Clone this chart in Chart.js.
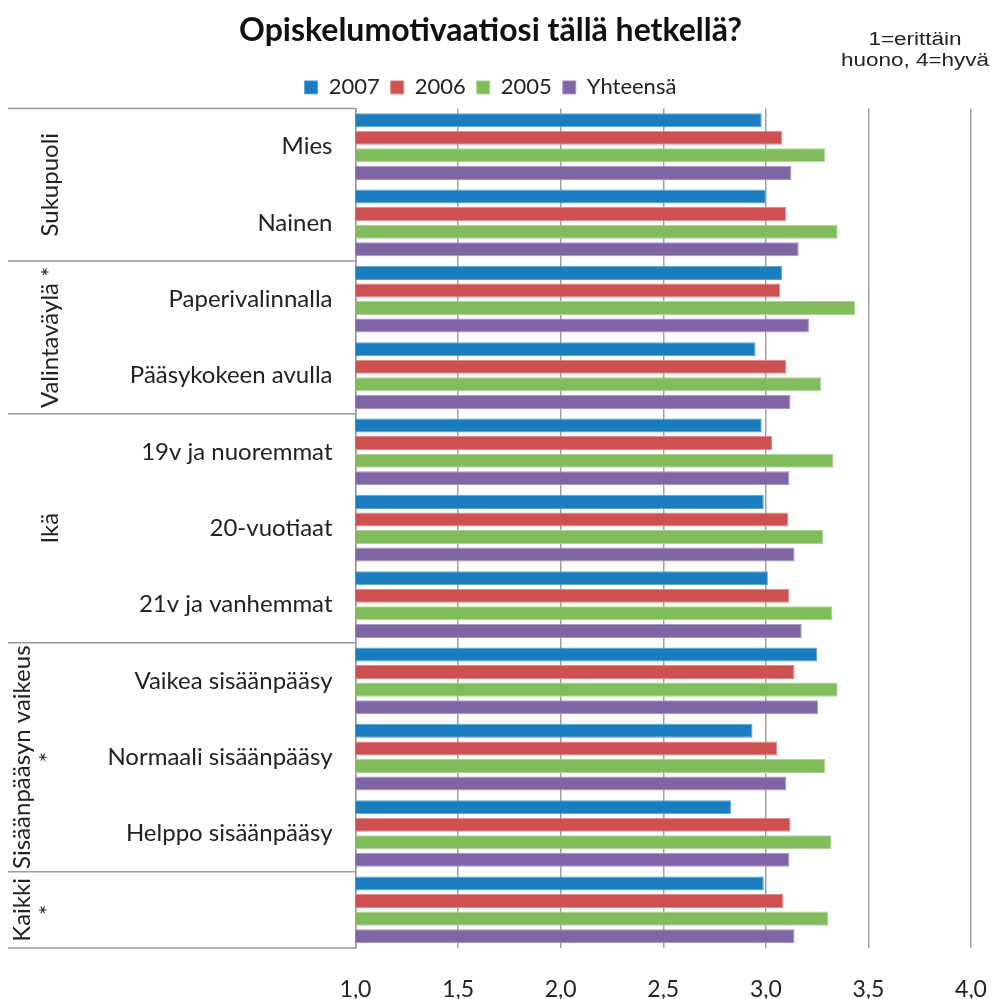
<!DOCTYPE html>
<html>
<head>
<meta charset="utf-8">
<script src="https://cdn.jsdelivr.net/npm/chart.js@4/dist/chart.umd.min.js"></script>
<style>
    html, body { margin: 0; padding: 0; background: #fff; }
    #wrap { width: 992px; height: 999px; position: relative; }
</style>
</head>
<body>
<div id="wrap"><canvas id="chart"></canvas></div>
<script>
"use strict";

// Data:
var categories = ['Mies', 'Nainen', 'Paperivalinnalla', 'Pääsykokeen avulla', '19v ja nuoremmat',
    '20-vuotiaat', '21v ja vanhemmat', 'Vaikea sisäänpääsy', 'Normaali sisäänpääsy', 'Helppo sisäänpääsy', ''];
var seriesNames = ['2007', '2006', '2005', 'Yhteensä'];
var values2007 = [2.98, 3.00, 3.08, 2.95, 2.98, 2.99, 3.01, 3.25, 2.935, 2.83, 2.99];
var values2006 = [3.08, 3.10, 3.07, 3.10, 3.03, 3.11, 3.115, 3.14, 3.055, 3.12, 3.085];
var values2005 = [3.29, 3.35, 3.435, 3.27, 3.33, 3.28, 3.325, 3.35, 3.29, 3.32, 3.305];
var valuesTotal = [3.125, 3.16, 3.21, 3.12, 3.115, 3.14, 3.175, 3.255, 3.10, 3.115, 3.14];

// Group column: label lines and which categories each group spans
var groupLabels = [['Sukupuoli'], ['Valintaväylä *'], ['Ikä'], ['Sisäänpääsyn vaikeus', '*'], ['Kaikki', '*']];
var groupStarts = [0, 2, 4, 7, 10];
var groupEnds = [1, 3, 6, 9, 10];

var xTicksMin = 1;
var xTicksMax = 4;
var xTicksStep = 0.5;

var colors = ['#1a7dc0', '#cf5050', '#80bb5c', '#8065a5'];
var borders = ['#5aa3d6', '#e08a8a', '#acd490', '#a892c4'];

var FONT = 'Lato, "Open Sans", sans-serif';

// Draws the grouped label table on the left and the scale note
var groupColumn = {
    id: 'groupColumn',
    afterDraw: function (chart) {
        var ctx = chart.ctx;
        var y = chart.scales.y;
        var area = chart.chartArea;
        var step = y.getPixelForValue(1) - y.getPixelForValue(0);

        ctx.save();
        ctx.strokeStyle = '#9a9a9a';
        ctx.lineWidth = 1.5;

        groupStarts.forEach(function (start, i) {
            var top = y.getPixelForValue(start) - step / 2;
            var bottom = y.getPixelForValue(groupEnds[i]) + step / 2;

            ctx.beginPath();
            ctx.moveTo(8, top);
            ctx.lineTo(area.left, top);
            ctx.stroke();
            if (i === groupStarts.length - 1) {
                ctx.beginPath();
                ctx.moveTo(8, bottom);
                ctx.lineTo(area.left, bottom);
                ctx.stroke();
            }

            // rotated label
            var lines = groupLabels[i];
            var mid = (top + bottom) / 2;
            ctx.fillStyle = '#222';
            ctx.font = '24px ' + FONT;
            ctx.textAlign = 'center';
            ctx.textBaseline = 'middle';
            lines.forEach(function (line, j) {
                var cx = lines.length === 1 ? 50 : 22 + j * 26;
                ctx.save();
                ctx.translate(cx, mid);
                ctx.rotate(-Math.PI / 2);
                ctx.fillText(line, 0, 0);
                ctx.restore();
            });
        });

        // scale note, top right (stretched a bit like in the original)
        ctx.fillStyle = '#222';
        ctx.font = '18px "Liberation Sans", Arial, sans-serif';
        ctx.textAlign = 'center';
        ctx.textBaseline = 'middle';
        ctx.save();
        ctx.translate(915, 0);
        ctx.scale(1.25, 1);
        ctx.fillText('1=erittäin', 0, 40);
        ctx.fillText('huono, 4=hyvä', 0, 61);
        ctx.restore();
        ctx.restore();
    }
};

var datasets = [values2007, values2006, values2005, valuesTotal].map(function (vals, i) {
    return {
        label: seriesNames[i],
        data: vals,
        backgroundColor: colors[i],
        borderColor: borders[i],
        borderWidth: 1,
        borderSkipped: false,
        categoryPercentage: 0.92,
        barPercentage: 0.8
    };
});

var chart = new Chart(document.getElementById('chart').getContext('2d'), {
    type: 'bar',
    data: {
        labels: categories,
        datasets: datasets
    },
    options: {
        indexAxis: 'y',
        responsive: true,
        maintainAspectRatio: false,
        animation: false,
        layout: {
            padding: { left: 10, right: 21, top: 0, bottom: 0 }
        },
        plugins: {
            title: {
                display: true,
                text: 'Opiskelumotivaatiosi tällä hetkellä?',
                color: '#111',
                font: { family: FONT, size: 32, weight: 'bold' },
                padding: { top: 11, bottom: 16 }
            },
            legend: {
                position: 'top',
                labels: {
                    color: '#222',
                    font: { family: FONT, size: 22 },
                    boxWidth: 13,
                    boxHeight: 13,
                    padding: 11
                }
            },
            tooltip: { enabled: false }
        },
        scales: {
            x: {
                min: xTicksMin,
                max: xTicksMax,
                ticks: {
                    stepSize: xTicksStep,
                    color: '#222',
                    font: { family: FONT, size: 23 },
                    padding: 28,
                    callback: function (v) {
                        return v.toFixed(1).replace('.', ',');
                    }
                },
                grid: {
                    color: '#a0a0a0',
                    lineWidth: 1.5,
                    drawTicks: false
                },
                border: { display: false },
                afterFit: function (scale) {
                    scale.height = 51;
                    scale.paddingLeft = 0;
                    scale.paddingRight = 0;
                }
            },
            y: {
                ticks: {
                    color: '#222',
                    font: { family: FONT, size: 24 },
                    padding: 23
                },
                grid: { display: false, drawTicks: false },
                border: { display: true, color: '#9a9a9a', width: 1.5 },
                afterFit: function (scale) {
                    scale.width = 345.5;
                    scale.paddingTop = 0;
                    scale.paddingBottom = 0;
                }
            }
        }
    },
    plugins: [groupColumn]
});
</script>
</body>
</html>
